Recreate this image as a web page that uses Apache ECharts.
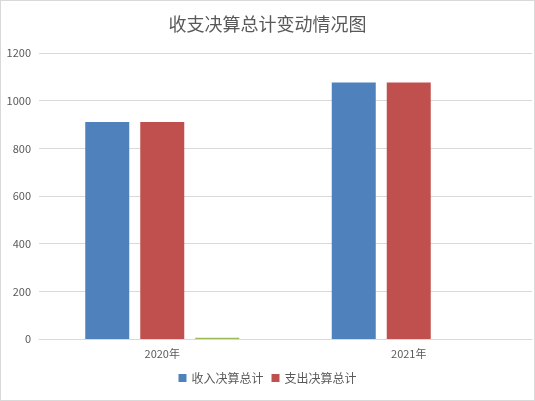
<!DOCTYPE html>
<html><head><meta charset="utf-8">
<script src="https://cdn.jsdelivr.net/npm/echarts@6/dist/echarts.min.js"></script>
<style>
html,body{margin:0;padding:0;background:#fff;}
#c{width:533px;height:399px;border:1px solid #D9D9D9;}
</style></head>
<body><div id="c"></div>
<script>
var categories = ['2020年', '2021年'];
var incomeTotal = [910, 1076];
var expenseTotal = [910, 1076];
var otherTotal = [5, 0];
var yTicks = [0, 200, 400, 600, 800, 1000, 1200];

var font = '"Noto Sans CJK SC", "Microsoft YaHei", sans-serif';
var chart = echarts.init(document.getElementById('c'), null, {renderer: 'canvas'});
chart.setOption({
  animation: false,
  title: {
    text: '收支决算总计变动情况图',
    left: 'center', top: 9,
    textStyle: {fontSize: 18, fontWeight: 'normal', color: '#595959', fontFamily: font}
  },
  legend: {
    data: ['收入决算总计', '支出决算总计'],
    bottom: 11, left: 'center',
    icon: 'rect', itemWidth: 8, itemHeight: 8, itemGap: 8,
    textStyle: {fontSize: 12, color: '#595959', fontFamily: font}
  },
  grid: {left: 38, right: 2, top: 52, bottom: 61, containLabel: false},
  xAxis: {
    type: 'category', data: categories,
    axisLine: {lineStyle: {color: '#D9D9D9'}},
    axisTick: {show: false},
    axisLabel: {color: '#595959', fontSize: 11, fontFamily: font, margin: 9}
  },
  yAxis: {
    type: 'value', min: yTicks[0], max: yTicks[yTicks.length - 1], interval: 200,
    axisLine: {show: false}, axisTick: {show: false},
    axisLabel: {color: '#595959', fontSize: 11, fontFamily: font, margin: 8,
      formatter: function (v) { return String(v); }},
    splitLine: {lineStyle: {color: '#D9D9D9'}}
  },
  series: [
    {name: '收入决算总计', type: 'bar', data: incomeTotal, barWidth: 44, barGap: '25%', barCategoryGap: '37%', itemStyle: {color: '#4F81BD'}},
    {name: '支出决算总计', type: 'bar', data: expenseTotal, barWidth: 44, barGap: '25%', itemStyle: {color: '#C0504D'}},
    {name: '其他', type: 'bar', data: otherTotal, barWidth: 44, barGap: '25%', itemStyle: {color: '#9BBB59'}}
  ]
});
</script></body></html>
